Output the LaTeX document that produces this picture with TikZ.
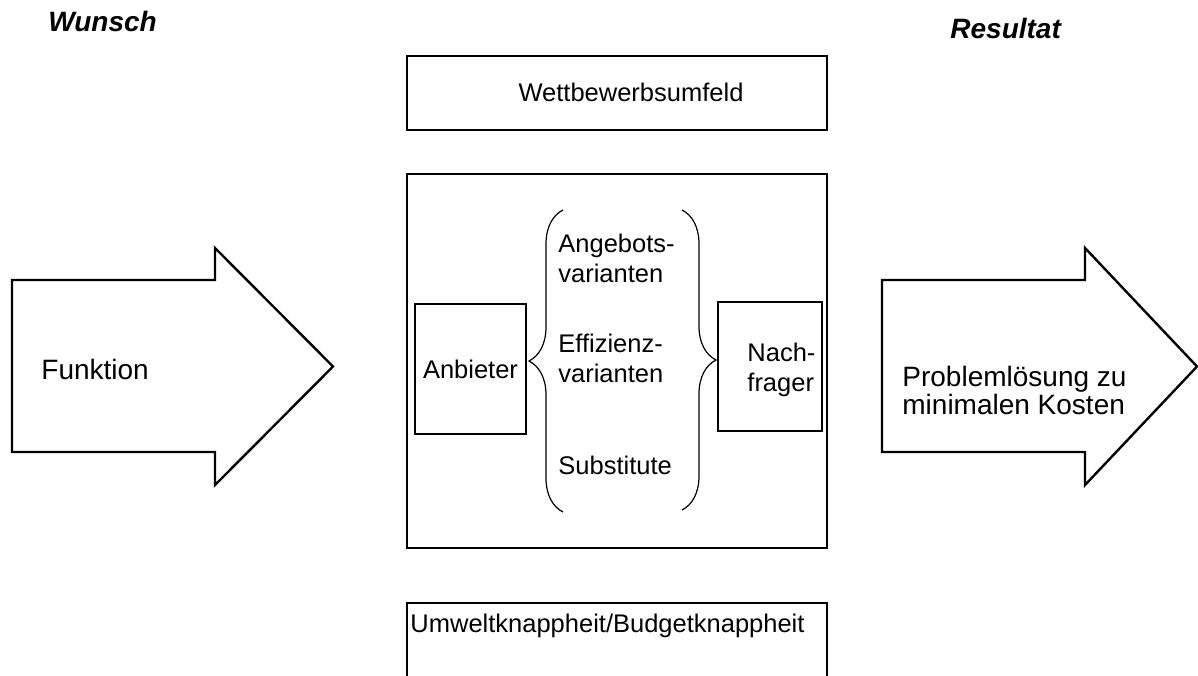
\documentclass[tikz,border=0pt]{standalone}
\usepackage{fontspec}
\setmainfont{Liberation Sans}
\usetikzlibrary{decorations.pathreplacing}

\begin{document}
\begin{tikzpicture}[x=0.5pt, y=-0.5pt,
	box/.style={draw, line width=1.4pt, inner sep=0pt},
	smallbox/.style={draw, line width=1.1pt},
	txt/.style={inner sep=0pt, font=\fontsize{12.75}{15}\selectfont, align=left},
	bigtxt/.style={inner sep=0pt, font=\fontsize{14}{14}\selectfont, align=left},
	title/.style={inner sep=0pt, font=\fontsize{14}{17}\selectfont\bfseries\itshape},
	blockarrow/.style={draw, line width=1.2pt, line join=miter},
	curly/.style={draw, line width=0.6pt, decorate, decoration={brace, amplitude=17pt}}]
			\useasboundingbox (0,0) rectangle (1198,675);
			% headings
			\node[title, anchor=base west] (wunsch)   at (48,31)  {Wunsch};
			\node[title, anchor=base west] (resultat) at (950,38) {Resultat};
			% the two block arrows
			\foreach \x/\tip in {12/333, 882/1197}
			{	\draw[blockarrow] (\x,280) -- (\x+203,280) -- (\x+203,248) -- (\tip,366.5)
					-- (\x+203,485) -- (\x+203,452) -- (\x,452) -- cycle;
			}
			\node[bigtxt, anchor=west] (funktion) at (41,369.8)  {Funktion};
			\node[bigtxt, anchor=west] (loesung)  at (902,390.8) {Problemlösung zu\\minimalen Kosten};
			% boxes in the middle
			\node[box, minimum width=210pt, minimum height=37pt]   (umfeld)    at (617,93)    {};
			\node[box, minimum width=210pt, minimum height=187pt]  (markt)     at (617,361)   {};
			\node[box, minimum width=210pt, minimum height=43.5pt] (knappheit) at (617,646.5) {};
			\node[txt] (umfeldtext)    at (631,92.7)    {Wettbewerbsumfeld};
			\node[txt] (knappheittext) at (607.5,625.7) {Umweltknappheit/Budgetknappheit};
			%
			\node[smallbox, txt, minimum width=55.5pt, minimum height=65pt] (anbieter) at (470.5,369) {Anbieter};
			\node[smallbox, minimum width=52pt, minimum height=64.5pt]      (nachfrager) at (770,366.5) {};
			\node[txt, anchor=west] (nachtext) at (747,369.4) {Nach-\\frager};
			% variants between the braces
			\node[txt, anchor=west] (angebot)   at (558,258.7) {Angebots-\\varianten};
			\node[txt, anchor=west] (effizienz) at (558,358.7) {Effizienz-\\varianten};
			\node[txt, anchor=west] (substitut) at (558,465.7) {Substitute};
			\draw[curly] (563,512) -- (563,210);
			\draw[curly] (682,210) -- (682,510);
		\end{tikzpicture}
\end{document}
